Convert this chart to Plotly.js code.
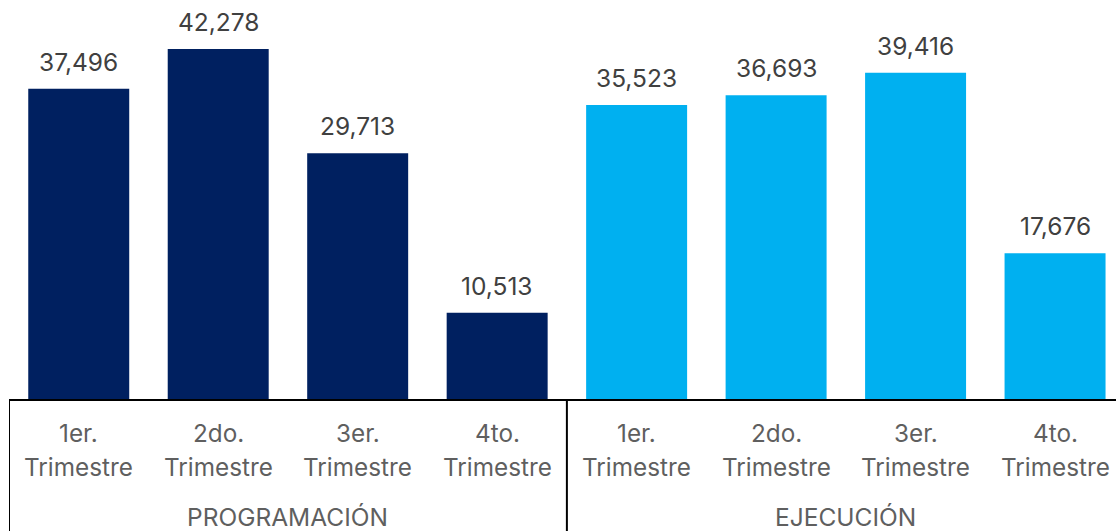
<!DOCTYPE html>
<html>
<head>
<meta charset="utf-8">
<script src="https://cdn.plot.ly/plotly-3.0.1.min.js"></script>
<style>html,body{margin:0;padding:0;background:#fff;overflow:hidden}#chart{width:1116px;height:531px}</style>
</head>
<body>
<div id="chart"></div>
<script>
const quarters = ["1er.","2do.","3er.","4to."];
const quarterWord = "Trimestre";
const groups = ["PROGRAMACIÓN","EJECUCIÓN"];
const programacion = [37496, 42278, 29713, 10513];
const ejecucion = [35523, 36693, 39416, 17676];
const colors = ["#002060", "#00B0F0"];

const fmt = v => v.toLocaleString("en-US");
const xProg = quarters.map((c,i)=>i);
const xEje = quarters.map((c,i)=>i+4);

const traces = [
  {type:"bar", x:xProg, y:programacion, marker:{color:colors[0]}, hoverinfo:"none"},
  {type:"bar", x:xEje, y:ejecucion, marker:{color:colors[1]}, hoverinfo:"none"}
];

function py(pix){ return (400-pix)/400; }
const annotations = [];
[[xProg, programacion],[xEje, ejecucion]].forEach(([xs, ys])=>{
  xs.forEach((x,i)=>annotations.push({x:x, y:ys[i], xref:"x", yref:"y", text:fmt(ys[i]),
    showarrow:false, yanchor:"middle", yshift:27, font:{size:24.5,color:"#404040"}}));
});
const allX = xProg.concat(xEje);
const allQ = quarters.concat(quarters);
allX.forEach((x,i)=>{
  annotations.push({x:x, xref:"x", y:py(433), yref:"paper", text:allQ[i], showarrow:false,
    font:{size:24.3,color:"#5f5f5f"}, xanchor:"center", yanchor:"middle"});
  annotations.push({x:x, xref:"x", y:py(467), yref:"paper", text:quarterWord, showarrow:false,
    font:{size:24.3,color:"#5f5f5f"}, xanchor:"center", yanchor:"middle"});
});
groups.forEach((g,gi)=>{
  annotations.push({x:gi*4+1.5, xref:"x", y:py(517), yref:"paper", text:g, showarrow:false,
    font:{size:24.5,color:"#5f5f5f"}, xanchor:"center", yanchor:"middle"});
});

const shapes = [
  {type:"line", xref:"x", yref:"paper", x0:-0.5, x1:-0.5, y0:0, y1:py(531), line:{color:"#000",width:2}},
  {type:"line", xref:"x", yref:"paper", x0:3.5, x1:3.5, y0:0, y1:py(531), line:{color:"#000",width:2}},
  {type:"line", xref:"paper", yref:"paper", x0:0, x1:1, y0:0, y1:0, line:{color:"#000",width:2}}
];

const layout = {
  width:1116, height:531,
  margin:{l:9, r:0, t:0, b:131},
  paper_bgcolor:"#fff", plot_bgcolor:"#fff",
  font:{family:"Inter, Roboto, sans-serif"},
  showlegend:false, bargap:0.276, barmode:"overlay",
  xaxis:{range:[-0.5, 7.437], showticklabels:false, showgrid:false, zeroline:false, showline:false, ticks:""},
  yaxis:{range:[0, 48180], visible:false, showgrid:false, zeroline:false},
  annotations:annotations, shapes:shapes
};
Plotly.newPlot("chart", traces, layout, {displayModeBar:false, staticPlot:true});
</script>
</body>
</html>
